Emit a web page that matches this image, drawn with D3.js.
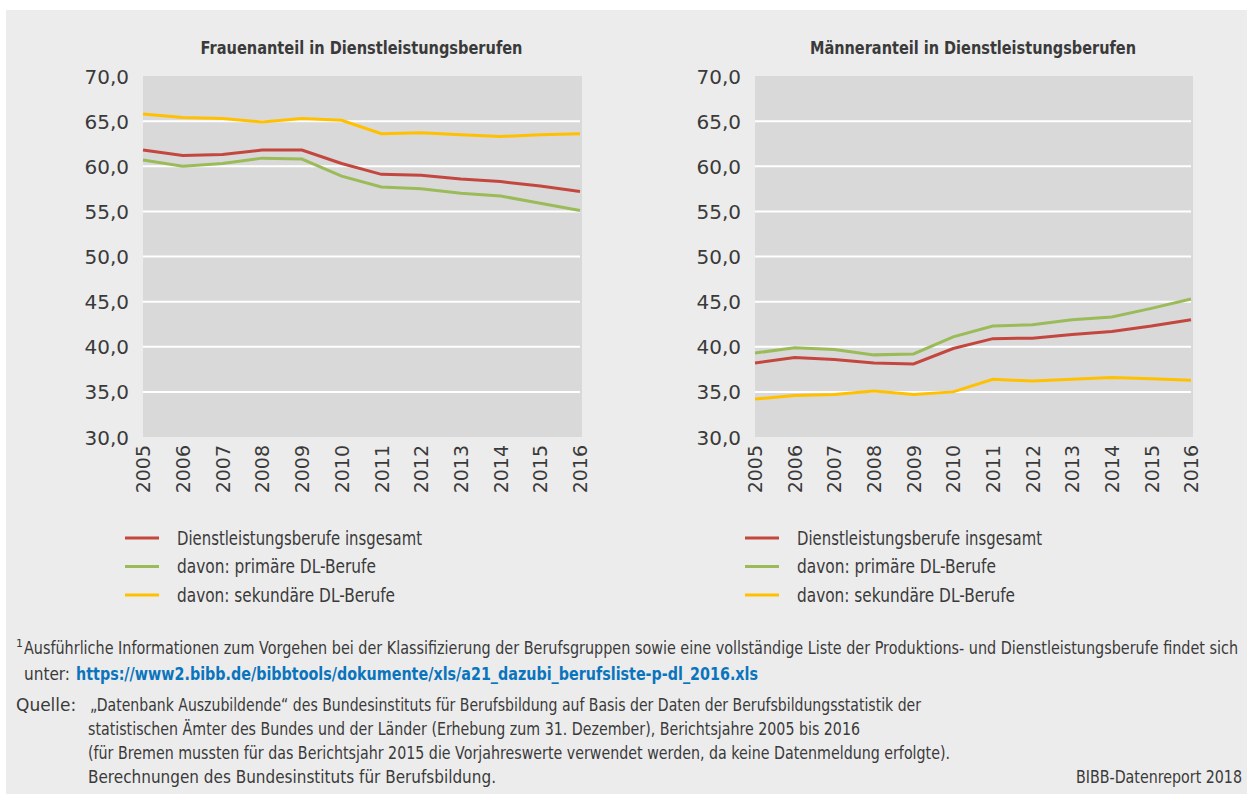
<!DOCTYPE html>
<html>
<head>
<meta charset="utf-8">
<script src="https://cdn.jsdelivr.net/npm/d3@7"></script>
<style>
  body { margin: 0; background: #fff; }
  text { font-family: "DejaVu Sans", sans-serif; fill: #3a3a3a; }
</style>
</head>
<body>
<script>
// data
var years = [2005, 2006, 2007, 2008, 2009, 2010, 2011, 2012, 2013, 2014, 2015, 2016]
var seriesNames = ["Dienstleistungsberufe insgesamt", "davon: primäre DL-Berufe", "davon: sekundäre DL-Berufe"]
var seriesColors = ["#c4473f", "#9bbb59", "#ffc000"]
var yTicks = [30, 35, 40, 45, 50, 55, 60, 65, 70]

var frauenGesamt = [61.8, 61.2, 61.3, 61.8, 61.8, 60.3, 59.1, 59.0, 58.6, 58.3, 57.8, 57.2]
var frauenPrimaer = [60.7, 60.0, 60.3, 60.9, 60.8, 58.9, 57.7, 57.5, 57.0, 56.7, 55.9, 55.1]
var frauenSekundaer = [65.8, 65.4, 65.3, 64.9, 65.3, 65.1, 63.6, 63.7, 63.5, 63.3, 63.5, 63.6]

var maennerGesamt = [38.2, 38.8, 38.6, 38.2, 38.1, 39.8, 40.9, 40.95, 41.35, 41.7, 42.3, 43.0]
var maennerPrimaer = [39.3, 39.9, 39.7, 39.1, 39.2, 41.1, 42.3, 42.45, 43.0, 43.3, 44.25, 45.3]
var maennerSekundaer = [34.2, 34.6, 34.7, 35.1, 34.7, 35.0, 36.4, 36.2, 36.4, 36.6, 36.45, 36.3]

var charts = [
  {title: "Frauenanteil in Dienstleistungsberufen", titleLen: 322, left: 143, right: 580, legendX: 125, series: [frauenGesamt, frauenPrimaer, frauenSekundaer]},
  {title: "Männeranteil in Dienstleistungsberufen", titleLen: 326, left: 755, right: 1191, legendX: 745, series: [maennerGesamt, maennerPrimaer, maennerSekundaer]}
]
var legendLen = [245, 199, 218]

var W = 1247, H = 794
var plotTop = 76, plotBottom = 437

var svg = d3.select("body").append("svg")
  .attr("width", W)
  .attr("height", H)

svg.append("rect")
  .attr("x", 6).attr("y", 10)
  .attr("width", W - 6).attr("height", H - 10)
  .attr("fill", "#ececec")

var fmt = function(v) { return d3.format(".1f")(v).replace(".", ",") }

charts.forEach(function(c) {
  var x = d3.scalePoint().domain(years).range([c.left, c.right])
  var y = d3.scaleLinear().domain([30, 70]).range([plotBottom, plotTop])
  var g = svg.append("g")

  g.append("rect")
    .attr("x", c.left).attr("y", plotTop)
    .attr("width", c.right - c.left + 2).attr("height", plotBottom - plotTop)
    .attr("fill", "#d9d9d9")

  // gridlines
  g.selectAll(".grid")
    .data(yTicks.filter(function(t) { return t > 30 && t < 70 }))
    .enter().append("line")
    .attr("x1", c.left).attr("x2", c.right)
    .attr("y1", function(d) { return y(d) }).attr("y2", function(d) { return y(d) })
    .attr("stroke", "#fff").attr("stroke-width", 2)

  // y axis
  var ya = g.append("g")
    .attr("transform", "translate(" + (c.left - 14) + ",0)")
    .call(d3.axisLeft(y).tickValues(yTicks).tickFormat(fmt).tickSize(0).tickPadding(0))
  ya.select(".domain").remove()
  ya.attr("font-family", null).attr("font-size", null)
  ya.selectAll("text")
    .attr("font-size", 20)
    .attr("dy", "0.35em")
    .attr("fill", null)

  // x axis
  var xa = g.append("g")
    .attr("transform", "translate(0," + (plotBottom + 8) + ")")
    .call(d3.axisBottom(x).tickSize(0).tickPadding(0).tickFormat(d3.format("d")))
  xa.select(".domain").remove()
  xa.attr("font-family", null).attr("font-size", null)
  xa.selectAll("text")
    .attr("font-size", 19)
    .attr("fill", null)
    .attr("transform", "rotate(-90)")
    .attr("text-anchor", "end")
    .attr("x", 0).attr("y", 0)
    .attr("dy", "0.35em")

  var line = d3.line()
    .x(function(d, i) { return x(years[i]) })
    .y(function(d) { return y(d) })

  c.series.forEach(function(s, k) {
    g.append("path")
      .datum(s)
      .attr("d", line)
      .attr("fill", "none")
      .attr("stroke", seriesColors[k])
      .attr("stroke-width", 3)
  })

  g.append("text")
    .attr("x", (c.left + c.right) / 2 - c.titleLen / 2).attr("y", 54)
    .attr("font-size", 18)
    .attr("font-weight", "bold")
    .attr("textLength", c.titleLen).attr("lengthAdjust", "spacingAndGlyphs")
    .text(c.title)

  // legend
  var lg = g.append("g").attr("transform", "translate(" + c.legendX + ",538)")
  seriesNames.forEach(function(n, k) {
    lg.append("line")
      .attr("x1", 0).attr("x2", 34)
      .attr("y1", k * 28.5).attr("y2", k * 28.5)
      .attr("stroke", seriesColors[k]).attr("stroke-width", 3)
    lg.append("text")
      .attr("x", 52).attr("y", k * 28.5)
      .attr("dy", "0.35em")
      .attr("font-size", 19)
      .attr("textLength", legendLen[k]).attr("lengthAdjust", "spacingAndGlyphs")
      .text(n)
  })
})

// footnotes
var notes = svg.append("g").attr("font-size", 17)

notes.append("text").attr("x", 16).attr("y", 647).attr("font-size", 11).text("1")
notes.append("text").attr("x", 24).attr("y", 654)
  .attr("textLength", 1214).attr("lengthAdjust", "spacingAndGlyphs")
  .text("Ausführliche Informationen zum Vorgehen bei der Klassifizierung der Berufsgruppen sowie eine vollständige Liste der Produktions- und Dienstleistungsberufe findet sich")

notes.append("text").attr("x", 24).attr("y", 680)
  .attr("textLength", 46).attr("lengthAdjust", "spacingAndGlyphs")
  .text("unter:")
notes.append("text").attr("x", 76).attr("y", 680)
  .attr("font-weight", "bold")
  .style("fill", "#0a74bd")
  .attr("textLength", 682).attr("lengthAdjust", "spacingAndGlyphs")
  .text("https://www2.bibb.de/bibbtools/dokumente/xls/a21_dazubi_berufsliste-p-dl_2016.xls")

var quelle = [
  "„Datenbank Auszubildende“ des Bundesinstituts für Berufsbildung auf Basis der Daten der Berufsbildungsstatistik der",
  "statistischen Ämter des Bundes und der Länder (Erhebung zum 31. Dezember), Berichtsjahre 2005 bis 2016",
  "(für Bremen mussten für das Berichtsjahr 2015 die Vorjahreswerte verwendet werden, da keine Datenmeldung erfolgte).",
  "Berechnungen des Bundesinstituts für Berufsbildung."
]
var quelleLen = [831, 772, 862, 408]

notes.append("text").attr("x", 16).attr("y", 711)
  .text("Quelle:")
quelle.forEach(function(q, i) {
  notes.append("text")
    .attr("x", i == 0 ? 90 : 88).attr("y", 711 + i * 24)
    .attr("textLength", quelleLen[i]).attr("lengthAdjust", "spacingAndGlyphs")
    .text(q)
})

notes.append("text").attr("x", 1076).attr("y", 783)
  .attr("textLength", 166).attr("lengthAdjust", "spacingAndGlyphs")
  .text("BIBB-Datenreport 2018")
</script>
</body>
</html>
